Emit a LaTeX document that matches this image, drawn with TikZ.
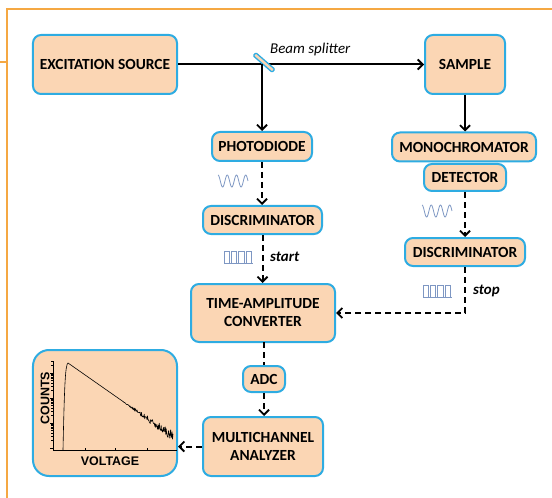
\documentclass[tikz,border=0pt]{standalone}
\usepackage{fontspec}
\setmainfont{Carlito}
\newfontfamily\arialf{Liberation Sans}
\usetikzlibrary{arrows.meta}
\definecolor{boxfill}{HTML}{FBD6B4}
\definecolor{boxline}{HTML}{2EACE2}
\definecolor{frameor}{HTML}{F5A843}
\definecolor{wavec}{HTML}{7E97C3}
\begin{document}
\begin{tikzpicture}[x=1bp,y=-1bp,
  box/.style={draw=boxline, fill=boxfill, line width=2bp, rounded corners=8bp,
    font=\bfseries\fontsize{15.5}{18}\selectfont, align=center, inner sep=0pt},
  conn/.style={line width=2bp, -{Straight Barb[length=5bp,width=10bp,line width=1.8bp]}},
  dconn/.style={conn, dash pattern=on 6bp off 4bp},
  dline/.style={line width=2bp, dash pattern=on 6bp off 4bp},
  lbl/.style={font=\itshape\fontsize{15}{17}\selectfont, inner sep=0pt},
  wave/.style={draw=wavec, line width=0.8bp},
]
\useasboundingbox (0,0) rectangle (552,498);
% frame lines
\draw[frameor, line width=1.2bp] (7,498) -- (7,9) -- (552,9);
\draw[frameor, line width=1.2bp] (0,62) -- (7,62);

% boxes
\node[box, minimum width=144bp, minimum height=59bp] (src) at (105,64.5) {EXCITATION SOURCE};
\node[box, minimum width=80bp, minimum height=59bp] (sample) at (465,64.5) {SAMPLE};
\node[box, minimum width=100bp, minimum height=29bp] (pd) at (262,146.5) {PHOTODIODE};
\node[box, minimum width=144bp, minimum height=29bp] (mono) at (464,147) {MONOCHROMATOR};
\node[box, minimum width=82bp, minimum height=27bp] (det) at (465,177.5) {DETECTOR};
\node[box, minimum width=119bp, minimum height=28bp] (disc1) at (262.5,220) {DISCRIMINATOR};
\node[box, minimum width=120bp, minimum height=28bp] (disc2) at (465,252) {DISCRIMINATOR};
\node[box, minimum width=144bp, minimum height=58bp] (tac) at (263,313) {TIME-AMPLITUDE\\CONVERTER};
\node[box, minimum width=42bp, minimum height=26bp] (adc) at (264,379) {ADC};
\node[box, minimum width=120bp, minimum height=59bp] (mca) at (263,446.5) {MULTICHANNEL\\ANALYZER};
\node[box, rounded corners=16bp, minimum width=144bp, minimum height=126bp] (graph) at (105,413) {};

% beam splitter
\coordinate (bs) at (262,64);
\draw[conn] (src.east) -- (src.east -| sample.west);
\node[draw=boxline, fill=boxfill, line width=1.3bp, minimum width=25bp, minimum height=4bp, inner sep=0pt, rounded corners=1bp, rotate=-41] (split) at (264,62.5) {};
\node[lbl, anchor=west] (bslbl) at (270,50) {Beam splitter};
\draw[conn] (bs) -- (bs |- pd.north);

% right column
\draw[conn] (sample.south) -- (sample.south |- mono.north);
\draw[dconn] (det.south) -- (disc2.north);
\draw[dconn] (disc2.south) |- (tac.east);

% left column
\draw[dconn] (pd.south) -- (pd.south |- disc1.north);
\draw[dconn] (disc1.south) -- (disc1.south |- tac.north);
\draw[dline] (tac.south) -- (tac.south -| adc.north) -- (adc.north);
\draw[dconn] (adc.south) -- (adc.south |- mca.north);
\draw[dconn] (mca.west) -- (mca.west -| graph.east);

% labels
\node[lbl, font=\bfseries\itshape\fontsize{15}{17}\selectfont, anchor=west] (startlbl) at (270,257) {start};
\node[lbl, font=\bfseries\itshape\fontsize{15}{17}\selectfont, anchor=west] (stoplbl) at (473,291) {stop};

% wave icons
\draw[wave] plot[domain=0:30, samples=80] ({218+\x}, {181-6*cos(\x/30*3.25*360)});
\draw[wave] plot[domain=0:30, samples=80] ({422+\x}, {211-6*cos(\x/30*3.25*360)});
% square pulse icons
\foreach \xo/\yo in {224/251, 423/285}{
  \draw[wave] (\xo,\yo+12) -- (\xo+29,\yo+12);
  \foreach \k in {0,1,2,3}{
    \draw[wave] ({\xo+\k*7.3},\yo+12) -- ({\xo+\k*7.3},\yo) -- ({\xo+\k*7.3+5.5},\yo) -- ({\xo+\k*7.3+5.5},\yo+12);
  }
}

% graph contents
\draw[line width=0.8bp] (53,361) -- (53,450) -- (177,450);
\foreach \yb in {448,423,398,373}{
  \draw[line width=0.6bp] (53,\yb) -- (50,\yb);
  \foreach \k in {2,...,9}{
    \pgfmathsetmacro{\yy}{\yb-25*log10(\k)}
    \pgfmathparse{\yy>361 ? 1 : 0}
    \ifnum\pgfmathresult=1
      \draw[line width=0.5bp] (53,\yy) -- (51.3,\yy);
    \fi
  }
}
\foreach \xt in {85,115,147}{
  \draw[line width=0.6bp] (\xt,450) -- (\xt,447.5);
}
\pgfmathsetseed{7}
\draw[line width=0.6bp, line join=round] (63,450) .. controls (64.5,380) and (65.5,365) .. (68,363)
  -- plot[domain=68.5:173, samples=230] (\x, {363 + 0.7*(\x-68) + rand*max(0,\x-122)/51*5.5});
\node[font=\arialf\bfseries\fontsize{12.5}{14}\selectfont, rotate=90, inner sep=0pt] (counts) at (45,398) {COUNTS};
\node[font=\arialf\bfseries\fontsize{12.5}{14}\selectfont, inner sep=0pt] (volt) at (110,461) {VOLTAGE};
\end{tikzpicture}
\end{document}
